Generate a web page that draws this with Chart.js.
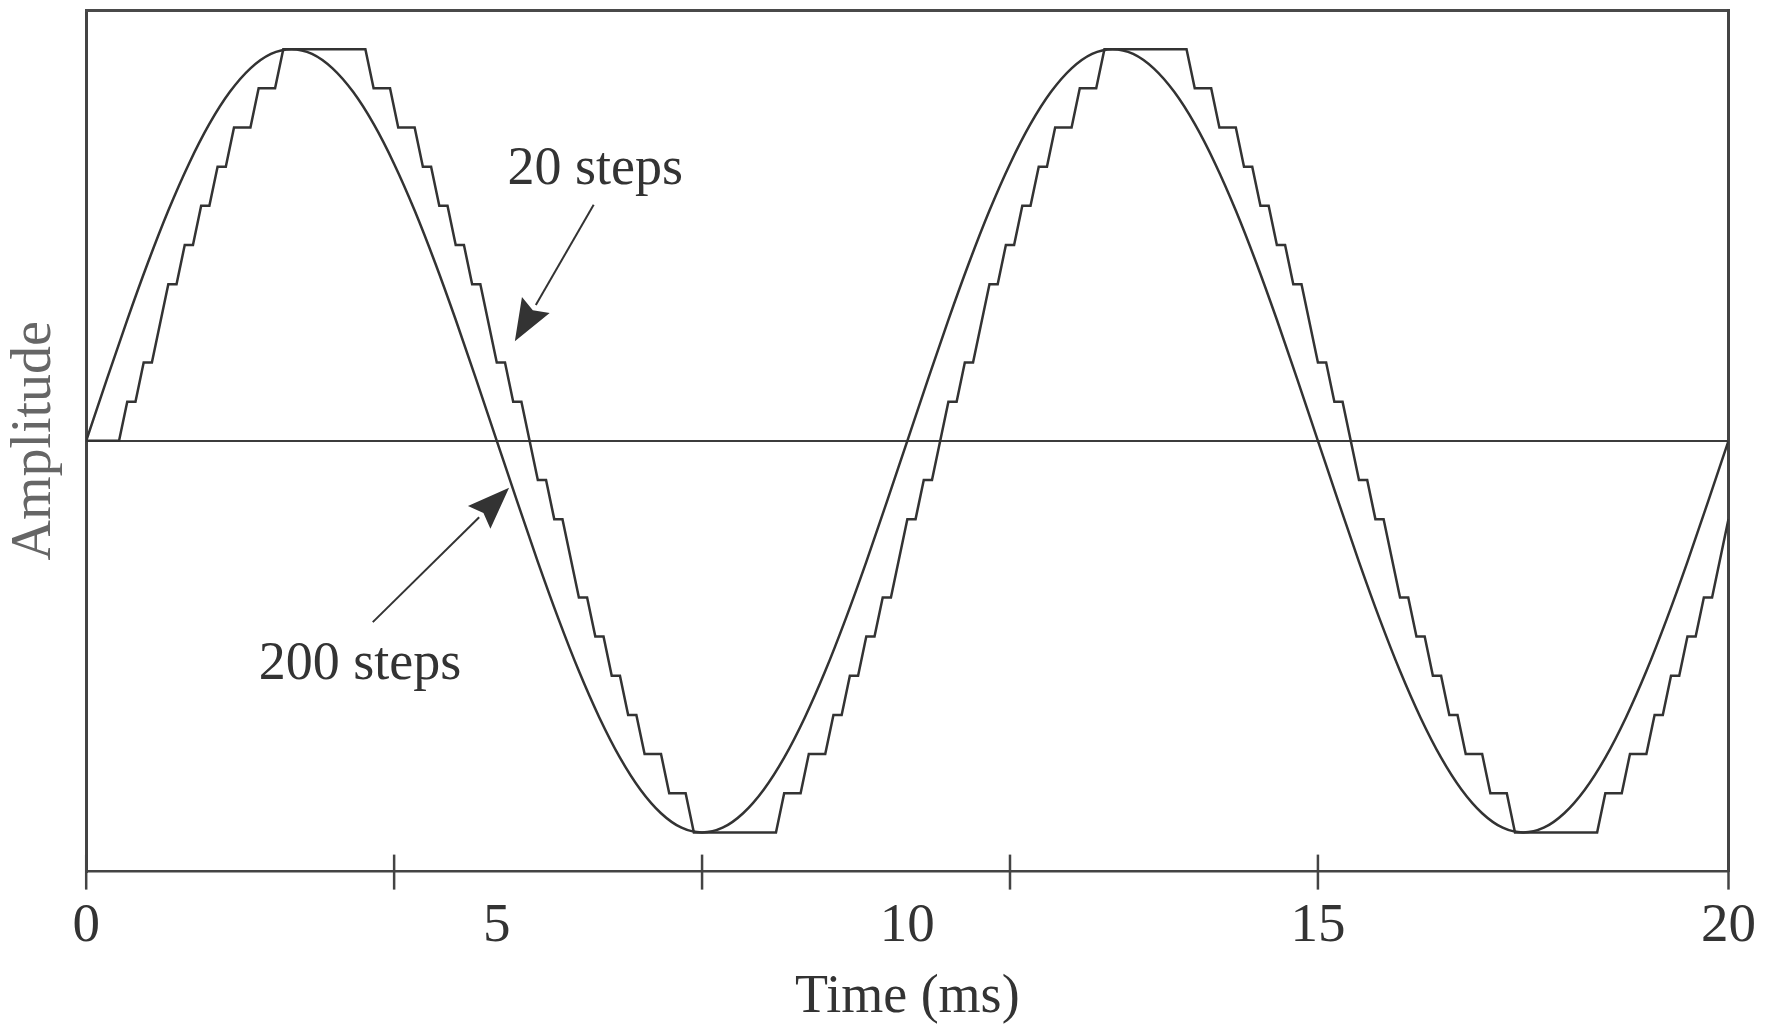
<!DOCTYPE html>
<html>
<head>
<meta charset="utf-8">
<title>Sine wave quantization</title>
<script src="https://cdn.jsdelivr.net/npm/chart.js@4.4.1/dist/chart.umd.min.js"></script>
<style>
    html, body { margin: 0; padding: 0; background: #ffffff; }
    #wrap { width: 1783px; height: 1025px; }
</style>
</head>
<body>
<div id="wrap"><canvas id="sineChart"></canvas></div>
<script>
// 200-step curve (looks smooth), read every 0.25 ms
const sineTime = [0, 0.25, 0.5, 0.75, 1, 1.25, 1.5, 1.75, 2, 2.25, 2.5, 2.75, 3, 3.25, 3.5, 3.75, 4, 4.25, 4.5, 4.75,
    5, 5.25, 5.5, 5.75, 6, 6.25, 6.5, 6.75, 7, 7.25, 7.5, 7.75, 8, 8.25, 8.5, 8.75, 9, 9.25, 9.5, 9.75,
    10, 10.25, 10.5, 10.75, 11, 11.25, 11.5, 11.75, 12, 12.25, 12.5, 12.75, 13, 13.25, 13.5, 13.75, 14, 14.25, 14.5, 14.75,
    15, 15.25, 15.5, 15.75, 16, 16.25, 16.5, 16.75, 17, 17.25, 17.5, 17.75, 18, 18.25, 18.5, 18.75, 19, 19.25, 19.5, 19.75, 20];
const sineValue = [0, 0.156, 0.309, 0.454, 0.588, 0.707, 0.809, 0.891, 0.951, 0.988,
    1, 0.988, 0.951, 0.891, 0.809, 0.707, 0.588, 0.454, 0.309, 0.156,
    0, -0.156, -0.309, -0.454, -0.588, -0.707, -0.809, -0.891, -0.951, -0.988,
    -1, -0.988, -0.951, -0.891, -0.809, -0.707, -0.588, -0.454, -0.309, -0.156,
    0, 0.156, 0.309, 0.454, 0.588, 0.707, 0.809, 0.891, 0.951, 0.988,
    1, 0.988, 0.951, 0.891, 0.809, 0.707, 0.588, 0.454, 0.309, 0.156,
    0, -0.156, -0.309, -0.454, -0.588, -0.707, -0.809, -0.891, -0.951, -0.988,
    -1, -0.988, -0.951, -0.891, -0.809, -0.707, -0.588, -0.454, -0.309, -0.156,
    0];

// 20-step curve: corners of the staircase
const stepTime = [0, 0.4, 0.5, 0.6, 0.7, 0.8, 1.0, 1.1, 1.2, 1.3, 1.4, 1.5, 1.6, 1.7, 1.8, 2.0, 2.1, 2.3, 2.4, 3.4,
    3.5, 3.7, 3.8, 4.0, 4.1, 4.2, 4.3, 4.4, 4.5, 4.6, 4.7, 4.8, 5.0, 5.1, 5.2, 5.3, 5.5, 5.6, 5.7, 5.8,
    6.0, 6.1, 6.2, 6.3, 6.4, 6.5, 6.6, 6.7, 6.8, 7.0, 7.1, 7.3, 7.4, 8.4, 8.5, 8.7, 8.8, 9.0, 9.1, 9.2,
    9.3, 9.4, 9.5, 9.6, 9.7, 9.8, 10.0, 10.1, 10.2, 10.3, 10.5, 10.6, 10.7, 10.8, 11.0, 11.1, 11.2, 11.3, 11.4, 11.5,
    11.6, 11.7, 11.8, 12.0, 12.1, 12.3, 12.4, 13.4, 13.5, 13.7, 13.8, 14.0, 14.1, 14.2, 14.3, 14.4, 14.5, 14.6, 14.7, 14.8,
    15.0, 15.1, 15.2, 15.3, 15.5, 15.6, 15.7, 15.8, 16.0, 16.1, 16.2, 16.3, 16.4, 16.5, 16.6, 16.7, 16.8, 17.0, 17.1, 17.3,
    17.4, 18.4, 18.5, 18.7, 18.8, 19.0, 19.1, 19.2, 19.3, 19.4, 19.5, 19.6, 19.7, 19.8, 20.0];
const stepLevel = [0, 0, 0.1, 0.1, 0.2, 0.2, 0.4, 0.4, 0.5, 0.5, 0.6, 0.6, 0.7, 0.7, 0.8, 0.8, 0.9, 0.9, 1, 1,
    0.9, 0.9, 0.8, 0.8, 0.7, 0.7, 0.6, 0.6, 0.5, 0.5, 0.4, 0.4, 0.2, 0.2, 0.1, 0.1, -0.1, -0.1, -0.2, -0.2,
    -0.4, -0.4, -0.5, -0.5, -0.6, -0.6, -0.7, -0.7, -0.8, -0.8, -0.9, -0.9, -1, -1, -0.9, -0.9, -0.8, -0.8, -0.7, -0.7,
    -0.6, -0.6, -0.5, -0.5, -0.4, -0.4, -0.2, -0.2, -0.1, -0.1, 0.1, 0.1, 0.2, 0.2, 0.4, 0.4, 0.5, 0.5, 0.6, 0.6,
    0.7, 0.7, 0.8, 0.8, 0.9, 0.9, 1, 1, 0.9, 0.9, 0.8, 0.8, 0.7, 0.7, 0.6, 0.6, 0.5, 0.5, 0.4, 0.4,
    0.2, 0.2, 0.1, 0.1, -0.1, -0.1, -0.2, -0.2, -0.4, -0.4, -0.5, -0.5, -0.6, -0.6, -0.7, -0.7, -0.8, -0.8, -0.9, -0.9,
    -1, -1, -0.9, -0.9, -0.8, -0.8, -0.7, -0.7, -0.6, -0.6, -0.5, -0.5, -0.4, -0.4, -0.2];

// Axis: where the tick marks sit (ms) and the labels under the axis
const tickMarks = [0, 3.75, 7.5, 11.25, 15, 20];
const tickLabels = [0, 5, 10, 15, 20];

// Call-outs, in data units (ms, amplitude)
const noteText = ['20 steps', '200 steps'];
const noteX = [5.13, 2.10];
const noteY = [0.656, -0.608];
const arrowFromX = [6.18, 3.49];
const arrowFromY = [0.603, -0.463];
const arrowToX = [5.22, 5.15];
const arrowToY = [0.254, -0.12];

const serif = "'Liberation Serif', 'DejaVu Serif', serif";
const ink = '#333333';

function toPoints(xs, ys) {
    return xs.map((x, i) => ({ x: x, y: ys[i] }));
}

// Small tick marks that cross the time axis
const tickMarkPlugin = {
    id: 'tickMarkPlugin',
    afterDraw(chart) {
        const { ctx, chartArea } = chart;
        const xScale = chart.scales.x;
        ctx.save();
        ctx.strokeStyle = '#444';
        ctx.lineWidth = 2.5;
        tickMarks.forEach((v) => {
            const px = xScale.getPixelForValue(v);
            ctx.beginPath();
            ctx.moveTo(px, chartArea.bottom - 17);
            ctx.lineTo(px, chartArea.bottom + 18);
            ctx.stroke();
        });
        ctx.restore();
    }
};

// Labels with arrows
const notePlugin = {
    id: 'notePlugin',
    afterDatasetsDraw(chart) {
        const { ctx } = chart;
        const xs = chart.scales.x;
        const ys = chart.scales.y;
        ctx.save();
        ctx.fillStyle = '#333';
        ctx.strokeStyle = '#333';
        ctx.lineWidth = 2;
        ctx.font = '54px ' + serif;
        ctx.textAlign = 'left';
        ctx.textBaseline = 'alphabetic';
        noteText.forEach((txt, i) => {
            ctx.fillText(txt, xs.getPixelForValue(noteX[i]), ys.getPixelForValue(noteY[i]));

            const x1 = xs.getPixelForValue(arrowFromX[i]);
            const y1 = ys.getPixelForValue(arrowFromY[i]);
            const x2 = xs.getPixelForValue(arrowToX[i]);
            const y2 = ys.getPixelForValue(arrowToY[i]);
            const ang = Math.atan2(y2 - y1, x2 - x1);
            const headLen = 42;
            const headW = 16;
            const bx = x2 - headLen * Math.cos(ang);
            const by = y2 - headLen * Math.sin(ang);
            ctx.beginPath();
            ctx.moveTo(x1, y1);
            ctx.lineTo(bx, by);
            ctx.stroke();
            ctx.beginPath();
            ctx.moveTo(x2, y2);
            ctx.lineTo(bx + headW * Math.sin(ang), by - headW * Math.cos(ang));
            ctx.lineTo(bx + 6 * Math.cos(ang), by + 6 * Math.sin(ang));
            ctx.lineTo(bx - headW * Math.sin(ang), by + headW * Math.cos(ang));
            ctx.closePath();
            ctx.fill();
        });
        ctx.restore();
    }
};

const ctx = document.getElementById('sineChart').getContext('2d');

const sineChart = new Chart(ctx, {
    type: 'line',
    data: {
        datasets: [
            {
                label: '200 steps',
                data: toPoints(sineTime, sineValue),
                borderColor: ink,
                borderWidth: 2.5,
                pointRadius: 0,
                cubicInterpolationMode: 'monotone',
                fill: false
            },
            {
                label: '20 steps',
                data: toPoints(stepTime, stepLevel),
                borderColor: ink,
                borderWidth: 2.5,
                pointRadius: 0,
                tension: 0,
                fill: false
            }
        ]
    },
    options: {
        responsive: true,
        maintainAspectRatio: false,
        animation: false,
        devicePixelRatio: 1,
        layout: {
            padding: { left: 2, right: 41, top: 10, bottom: 0 }
        },
        plugins: {
            legend: { display: false },
            tooltip: { enabled: false }
        },
        scales: {
            x: {
                type: 'linear',
                position: 'bottom',
                min: 0,
                max: 20,
                afterBuildTicks: (axis) => {
                    axis.ticks = tickLabels.map((v) => ({ value: v }));
                },
                ticks: {
                    color: '#333',
                    padding: 27,
                    maxRotation: 0,
                    autoSkip: false,
                    font: { family: serif, size: 55, lineHeight: 1 }
                },
                grid: { display: false, drawTicks: false },
                border: { display: true, color: '#444', width: 2.5 },
                title: {
                    display: true,
                    text: 'Time (ms)',
                    color: '#333',
                    font: { family: serif, size: 54, lineHeight: 0.6 },
                    padding: { top: 1, bottom: 11 }
                }
            },
            y: {
                type: 'linear',
                position: 'left',
                min: -1.1,
                max: 1.1,
                afterBuildTicks: (axis) => {
                    axis.ticks = [{ value: 0 }]; // only the zero line
                },
                ticks: { display: false },
                grid: { drawTicks: false, color: '#3c3c3c', lineWidth: 2 },
                border: { display: true, color: '#444', width: 3 },
                title: {
                    display: true,
                    text: 'Amplitude',
                    color: '#666',
                    font: { family: serif, size: 56, lineHeight: 1.2 },
                    padding: { top: 0, bottom: 17 }
                }
            },
            xTop: {
                type: 'linear',
                position: 'top',
                min: 0,
                max: 20,
                ticks: { display: false },
                grid: { display: false, drawTicks: false },
                border: { display: true, color: '#4a4a4a', width: 3 }
            },
            yRight: {
                type: 'linear',
                position: 'right',
                min: -1.1,
                max: 1.1,
                ticks: { display: false },
                grid: { display: false, drawTicks: false },
                border: { display: true, color: '#444', width: 3 }
            }
        }
    },
    plugins: [tickMarkPlugin, notePlugin]
});
</script>
</body>
</html>
